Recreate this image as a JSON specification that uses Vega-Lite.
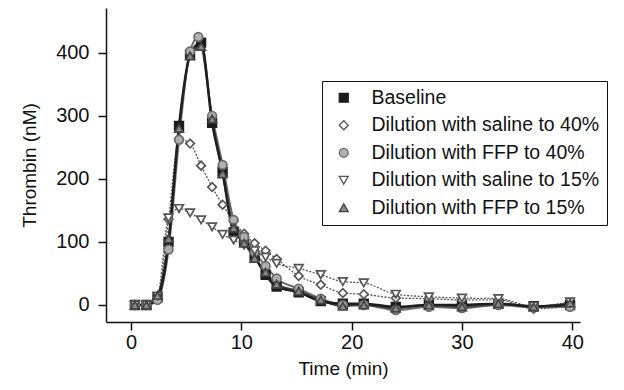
{
  "$schema": "https://vega.github.io/schema/vega-lite/v6.json",
  "autosize": {"type": "none"},
  "padding": {"left": 106, "top": 8, "right": 44, "bottom": 68},
  "width": 474,
  "height": 314,
  "background": "white",
  "config": {
    "font": "Liberation Sans",
    "view": {"stroke": null},
    "axis": {"grid": false, "domainColor": "#111", "tickColor": "#111", "labelColor": "#111", "titleColor": "#111", "labelFont": "Liberation Sans", "titleFont": "Liberation Sans", "labelFontSize": 20, "titleFontSize": 19, "titleFontWeight": "normal", "tickSize": 8, "domainWidth": 1.5, "tickWidth": 1.5},
    "legend": {"title": null, "orient": "none", "legendX": 216, "legendY": 73, "strokeColor": "#111", "fillColor": "white", "padding": 7, "rowPadding": 6.5, "labelFontSize": 19.5, "labelFont": "Liberation Sans", "labelColor": "#111", "labelOffset": 18, "symbolOffset": 5, "symbolSize": 80, "symbolStrokeWidth": 1.3, "labelLimit": 400}
  },
  "datasets": {
    "d": [
      {"s": "Baseline", "t": 0.35, "v": 0}, {"s": "Baseline", "t": 1.4, "v": 0}, {"s": "Baseline", "t": 2.4, "v": 12}, {"s": "Baseline", "t": 3.4, "v": 100}, {"s": "Baseline", "t": 4.35, "v": 284}, {"s": "Baseline", "t": 5.35, "v": 397}, {"s": "Baseline", "t": 6.35, "v": 416}, {"s": "Baseline", "t": 7.35, "v": 289}, {"s": "Baseline", "t": 8.3, "v": 211}, {"s": "Baseline", "t": 9.3, "v": 115}, {"s": "Baseline", "t": 10.25, "v": 101}, {"s": "Baseline", "t": 11.2, "v": 77}, {"s": "Baseline", "t": 12.2, "v": 48}, {"s": "Baseline", "t": 13.2, "v": 29}, {"s": "Baseline", "t": 15.2, "v": 20}, {"s": "Baseline", "t": 17.2, "v": 6}, {"s": "Baseline", "t": 19.2, "v": 2}, {"s": "Baseline", "t": 21.1, "v": 2}, {"s": "Baseline", "t": 24, "v": -3}, {"s": "Baseline", "t": 27, "v": 0}, {"s": "Baseline", "t": 30, "v": 0}, {"s": "Baseline", "t": 33.3, "v": 2}, {"s": "Baseline", "t": 36.5, "v": -2}, {"s": "Baseline", "t": 39.8, "v": 0},

      {"s": "Dilution with saline to 40%", "t": 0.35, "v": 0}, {"s": "Dilution with saline to 40%", "t": 1.4, "v": 0}, {"s": "Dilution with saline to 40%", "t": 2.4, "v": 10}, {"s": "Dilution with saline to 40%", "t": 3.4, "v": 136}, {"s": "Dilution with saline to 40%", "t": 4.35, "v": 263}, {"s": "Dilution with saline to 40%", "t": 5.35, "v": 256}, {"s": "Dilution with saline to 40%", "t": 6.35, "v": 221}, {"s": "Dilution with saline to 40%", "t": 7.35, "v": 187}, {"s": "Dilution with saline to 40%", "t": 8.3, "v": 159}, {"s": "Dilution with saline to 40%", "t": 9.3, "v": 133}, {"s": "Dilution with saline to 40%", "t": 10.25, "v": 113}, {"s": "Dilution with saline to 40%", "t": 11.2, "v": 98}, {"s": "Dilution with saline to 40%", "t": 12.2, "v": 86}, {"s": "Dilution with saline to 40%", "t": 13.2, "v": 73}, {"s": "Dilution with saline to 40%", "t": 15.2, "v": 46}, {"s": "Dilution with saline to 40%", "t": 17.2, "v": 32}, {"s": "Dilution with saline to 40%", "t": 19.2, "v": 19}, {"s": "Dilution with saline to 40%", "t": 21.1, "v": 17}, {"s": "Dilution with saline to 40%", "t": 24, "v": 11}, {"s": "Dilution with saline to 40%", "t": 27, "v": 10}, {"s": "Dilution with saline to 40%", "t": 30, "v": 8}, {"s": "Dilution with saline to 40%", "t": 33.3, "v": 8}, {"s": "Dilution with saline to 40%", "t": 36.5, "v": -6}, {"s": "Dilution with saline to 40%", "t": 39.8, "v": -2},

      {"s": "Dilution with FFP to 40%", "t": 0.35, "v": 0}, {"s": "Dilution with FFP to 40%", "t": 1.4, "v": 0}, {"s": "Dilution with FFP to 40%", "t": 2.4, "v": 8}, {"s": "Dilution with FFP to 40%", "t": 3.4, "v": 88}, {"s": "Dilution with FFP to 40%", "t": 4.35, "v": 262}, {"s": "Dilution with FFP to 40%", "t": 5.35, "v": 402}, {"s": "Dilution with FFP to 40%", "t": 6.1, "v": 425}, {"s": "Dilution with FFP to 40%", "t": 7.35, "v": 300}, {"s": "Dilution with FFP to 40%", "t": 8.3, "v": 222}, {"s": "Dilution with FFP to 40%", "t": 9.3, "v": 135}, {"s": "Dilution with FFP to 40%", "t": 10.25, "v": 108}, {"s": "Dilution with FFP to 40%", "t": 11.2, "v": 84}, {"s": "Dilution with FFP to 40%", "t": 12.2, "v": 62}, {"s": "Dilution with FFP to 40%", "t": 13.2, "v": 42}, {"s": "Dilution with FFP to 40%", "t": 15.2, "v": 26}, {"s": "Dilution with FFP to 40%", "t": 17.2, "v": 10}, {"s": "Dilution with FFP to 40%", "t": 19.2, "v": 0}, {"s": "Dilution with FFP to 40%", "t": 21.1, "v": 0}, {"s": "Dilution with FFP to 40%", "t": 24, "v": -8}, {"s": "Dilution with FFP to 40%", "t": 27, "v": -3}, {"s": "Dilution with FFP to 40%", "t": 30, "v": -5}, {"s": "Dilution with FFP to 40%", "t": 33.3, "v": 0}, {"s": "Dilution with FFP to 40%", "t": 36.5, "v": -4}, {"s": "Dilution with FFP to 40%", "t": 39.8, "v": -3},

      {"s": "Dilution with saline to 15%", "t": 0.35, "v": 0}, {"s": "Dilution with saline to 15%", "t": 1.4, "v": 0}, {"s": "Dilution with saline to 15%", "t": 2.4, "v": 14}, {"s": "Dilution with saline to 15%", "t": 3.4, "v": 138}, {"s": "Dilution with saline to 15%", "t": 4.35, "v": 153}, {"s": "Dilution with saline to 15%", "t": 5.35, "v": 146}, {"s": "Dilution with saline to 15%", "t": 6.35, "v": 135}, {"s": "Dilution with saline to 15%", "t": 7.35, "v": 124}, {"s": "Dilution with saline to 15%", "t": 8.3, "v": 112}, {"s": "Dilution with saline to 15%", "t": 9.3, "v": 103}, {"s": "Dilution with saline to 15%", "t": 10.25, "v": 95}, {"s": "Dilution with saline to 15%", "t": 11.2, "v": 86}, {"s": "Dilution with saline to 15%", "t": 12.2, "v": 76}, {"s": "Dilution with saline to 15%", "t": 13.2, "v": 66}, {"s": "Dilution with saline to 15%", "t": 15.2, "v": 58}, {"s": "Dilution with saline to 15%", "t": 17.2, "v": 48}, {"s": "Dilution with saline to 15%", "t": 19.2, "v": 37}, {"s": "Dilution with saline to 15%", "t": 21.1, "v": 35}, {"s": "Dilution with saline to 15%", "t": 24, "v": 17}, {"s": "Dilution with saline to 15%", "t": 27, "v": 13}, {"s": "Dilution with saline to 15%", "t": 30, "v": 11}, {"s": "Dilution with saline to 15%", "t": 33.3, "v": 10}, {"s": "Dilution with saline to 15%", "t": 36.5, "v": -2}, {"s": "Dilution with saline to 15%", "t": 39.8, "v": 5},

      {"s": "Dilution with FFP to 15%", "t": 0.35, "v": 0}, {"s": "Dilution with FFP to 15%", "t": 1.4, "v": 0}, {"s": "Dilution with FFP to 15%", "t": 2.4, "v": 15}, {"s": "Dilution with FFP to 15%", "t": 3.4, "v": 105}, {"s": "Dilution with FFP to 15%", "t": 4.35, "v": 280}, {"s": "Dilution with FFP to 15%", "t": 5.35, "v": 395}, {"s": "Dilution with FFP to 15%", "t": 6.35, "v": 410}, {"s": "Dilution with FFP to 15%", "t": 7.35, "v": 295}, {"s": "Dilution with FFP to 15%", "t": 8.3, "v": 208}, {"s": "Dilution with FFP to 15%", "t": 9.3, "v": 122}, {"s": "Dilution with FFP to 15%", "t": 10.25, "v": 98}, {"s": "Dilution with FFP to 15%", "t": 11.2, "v": 74}, {"s": "Dilution with FFP to 15%", "t": 12.2, "v": 52}, {"s": "Dilution with FFP to 15%", "t": 13.2, "v": 33}, {"s": "Dilution with FFP to 15%", "t": 15.2, "v": 22}, {"s": "Dilution with FFP to 15%", "t": 17.2, "v": 8}, {"s": "Dilution with FFP to 15%", "t": 19.2, "v": -2}, {"s": "Dilution with FFP to 15%", "t": 21.1, "v": 0}, {"s": "Dilution with FFP to 15%", "t": 24, "v": -5}, {"s": "Dilution with FFP to 15%", "t": 27, "v": 0}, {"s": "Dilution with FFP to 15%", "t": 30, "v": -3}, {"s": "Dilution with FFP to 15%", "t": 33.3, "v": 2}, {"s": "Dilution with FFP to 15%", "t": 36.5, "v": -3}, {"s": "Dilution with FFP to 15%", "t": 39.8, "v": 3}
    ]
  },
  "data": {"name": "d"},
  "encoding": {
    "x": {"field": "t", "type": "quantitative", "title": "Time (min)", "scale": {"domain": [-2.27, 40.7], "nice": false, "zero": false}, "axis": {"values": [0, 10, 20, 30, 40], "labelPadding": 2, "titlePadding": 7}},
    "y": {"field": "v", "type": "quantitative", "title": "Thrombin (nM)", "scale": {"domain": [-27, 471], "nice": false, "zero": false}, "axis": {"values": [0, 100, 200, 300, 400], "labelPadding": 9, "titlePadding": 16}},
    "stroke": {"field": "s", "type": "nominal",
      "scale": {"domain": ["Baseline", "Dilution with saline to 40%", "Dilution with FFP to 40%", "Dilution with saline to 15%", "Dilution with FFP to 15%"],
                "range": ["#1e1e1e", "#555555", "#6a6a6a", "#555555", "#444444"]}}
  },
  "layer": [
    {
      "transform": [{"filter": "datum.s === 'Dilution with saline to 40%' || datum.s === 'Dilution with saline to 15%'"}],
      "mark": {"type": "line", "interpolate": "monotone", "strokeDash": [2, 1.5], "strokeWidth": 1.3},
      "encoding": {"detail": {"field": "s"}}
    },
    {
      "transform": [{"filter": "datum.s === 'Dilution with FFP to 40%' || datum.s === 'Dilution with FFP to 15%'"}],
      "mark": {"type": "line", "interpolate": "monotone", "strokeWidth": 2},
      "encoding": {"detail": {"field": "s"}}
    },
    {
      "transform": [{"filter": "datum.s === 'Baseline'"}],
      "mark": {"type": "line", "interpolate": "monotone", "strokeWidth": 2.5},
      "encoding": {"detail": {"field": "s"}}
    },
    {
      "mark": {"type": "point", "filled": false, "opacity": 1, "strokeWidth": 1.7, "size": 75},
      "encoding": {
        "shape": {"field": "s", "type": "nominal",
          "scale": {"domain": ["Baseline", "Dilution with saline to 40%", "Dilution with FFP to 40%", "Dilution with saline to 15%", "Dilution with FFP to 15%"],
                    "range": ["square", "diamond", "circle", "triangle-down", "triangle-up"]}},
        "fill": {"field": "s", "type": "nominal",
          "scale": {"domain": ["Baseline", "Dilution with saline to 40%", "Dilution with FFP to 40%", "Dilution with saline to 15%", "Dilution with FFP to 15%"],
                    "range": ["#1a1a1a", "#ffffff", "#b0b0b0", "#ffffff", "#8a8a8a"]}}
      }
    }
  ]
}
